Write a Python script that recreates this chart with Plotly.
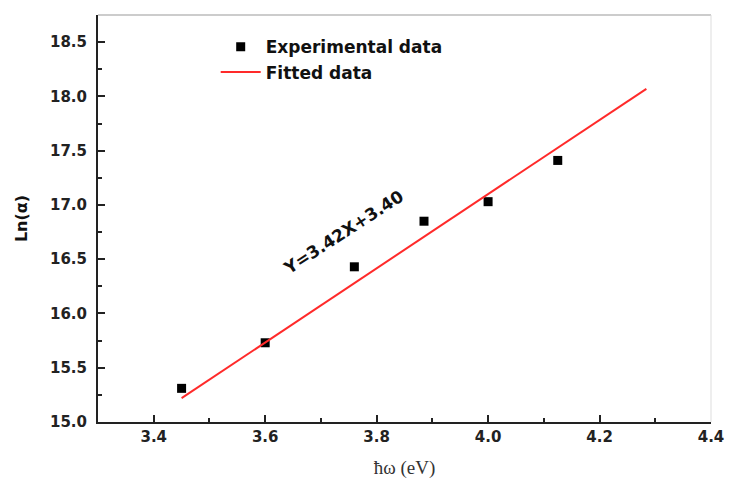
import plotly.graph_objects as go

energy_ev = [3.45, 3.60, 3.76, 3.885, 4.00, 4.125]
ln_alpha = [15.31, 15.73, 16.43, 16.85, 17.03, 17.41]

# Fitted line endpoints (Y = 3.42X + 3.40)
fit_x = [3.45, 4.284]
fit_y = [15.22, 18.07]

x_ticks = [3.4, 3.6, 3.8, 4.0, 4.2, 4.4]
y_ticks = [15.0, 15.5, 16.0, 16.5, 17.0, 17.5, 18.0, 18.5]

fig = go.Figure()
fig.add_trace(go.Scatter(
    x=energy_ev, y=ln_alpha, mode="markers", name="Experimental data",
    marker=dict(symbol="square", size=9, color="black"),
))
fig.add_trace(go.Scatter(
    x=fit_x, y=fit_y, mode="lines", name="Fitted data",
    line=dict(color="#ff2a2a", width=2),
))

axis_font = dict(family="DejaVu Sans", size=15, color="#222222", weight="bold")

fig.update_layout(
    width=729, height=483,
    margin=dict(l=98, r=18, t=15, b=61),
    paper_bgcolor="white", plot_bgcolor="white",
    showlegend=True,
    legend=dict(
        x=0.192, y=0.965, xanchor="left", yanchor="top",
        bgcolor="rgba(0,0,0,0)",
        font=dict(family="DejaVu Sans", size=17, color="#111111", weight="bold"),
        itemwidth=40, tracegroupgap=0,
    ),
    xaxis=dict(
        range=[3.3, 4.4], tickvals=x_ticks, ticktext=[f"{v:.1f}" for v in x_ticks],
        showline=True, linecolor="#222222", linewidth=2, showgrid=False, zeroline=False,
        ticks="inside", ticklen=7, tickwidth=2, tickcolor="#222222",
        minor=dict(ticks="inside", ticklen=4, tickwidth=1.5, tickcolor="#222222", dtick=0.1, tick0=3.3, showgrid=False),
        tickfont=axis_font, automargin=False, ticklabeloverflow="allow",
        title=dict(text="ħω (eV)", font=dict(family="Liberation Serif", size=19, color="#333333"), standoff=16),
    ),
    yaxis=dict(
        range=[15.0, 18.75], tickvals=y_ticks, ticktext=[f"{v:.1f}" for v in y_ticks],
        showline=True, linecolor="#222222", linewidth=2, showgrid=False, zeroline=False,
        ticks="inside", ticklen=7, tickwidth=2, tickcolor="#222222",
        minor=dict(ticks="inside", ticklen=4, tickwidth=1.5, tickcolor="#222222", dtick=0.25, tick0=15.0, showgrid=False),
        tickfont=axis_font, ticklabelstandoff=6, automargin=False, ticklabeloverflow="allow",
        title=dict(text="Ln(α)", font=dict(family="DejaVu Sans", size=16, color="#111111", weight="bold"), standoff=18),
    ),
    shapes=[
        dict(type="line", xref="paper", yref="paper", x0=0, x1=1, y0=1, y1=1,
             line=dict(color="#cccccc", width=2)),
        dict(type="line", xref="paper", yref="paper", x0=1, x1=1, y0=0, y1=1,
             line=dict(color="#dddddd", width=1)),
    ],
    annotations=[
        dict(x=3.741, y=16.75, xref="x", yref="y", text="Y=3.42X+3.40", showarrow=False,
             textangle=-33, font=dict(family="DejaVu Sans", size=17, color="#111111", weight="bold")),
    ],
)

fig.write_html(
    "out.html",
    config={"displayModeBar": False},
    post_script="document.body.style.margin='0';document.body.style.overflow='hidden';",
)
